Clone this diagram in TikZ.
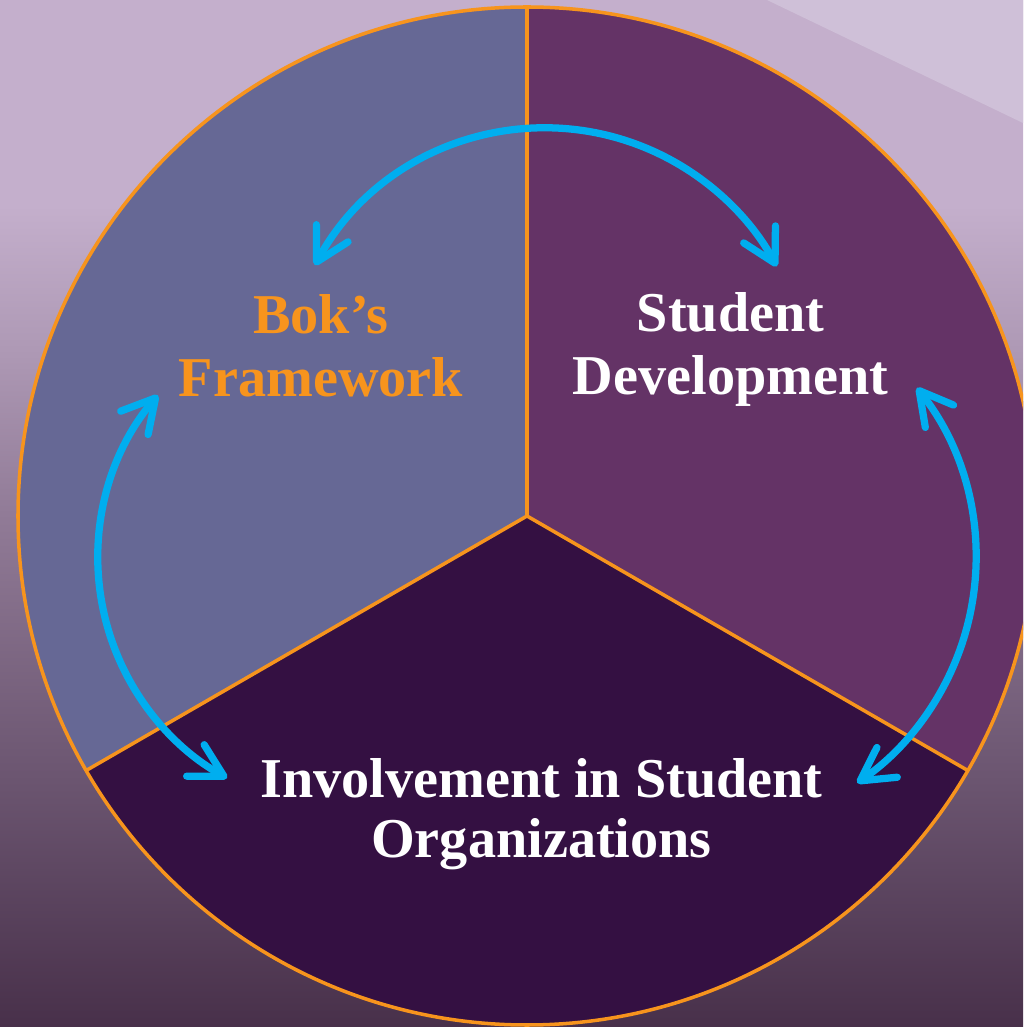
\documentclass[tikz,border=0pt]{standalone}
\usepackage{fontspec}
\setmainfont{Liberation Serif}
\usetikzlibrary{arrows.meta}

\definecolor{bgtop}{HTML}{C4AFCC}
\definecolor{bgupper}{HTML}{AE99B5}
\definecolor{bgmid}{HTML}{917B97}
\definecolor{bglower}{HTML}{6B5570}
\definecolor{bgbot}{HTML}{48304A}
\definecolor{bandc}{HTML}{CFC0D8}
\definecolor{secleft}{HTML}{666895}
\definecolor{secright}{HTML}{643366}
\definecolor{secbottom}{HTML}{341042}
\definecolor{rimorange}{HTML}{F7941D}
\definecolor{arrowblue}{HTML}{00AEEF}

% backdrop: flat light band at the top, darkening towards the bottom
\pgfdeclareverticalshading{backdrop}{100bp}{%
  color(0bp)=(bgbot); color(25bp)=(bgbot); color(37bp)=(bglower);
  color(50bp)=(bgmid); color(58bp)=(bgupper); color(65bp)=(bgtop);
  color(100bp)=(bgtop)}

\tikzset{
  rim/.style={draw=rimorange, line width=3pt, line join=round},
  barb/.tip={Straight Barb[length=0.98cm, width=1.08cm, round]},
  cyclearrow/.style={draw=arrowblue, line width=6.2pt, line cap=round, line join=round, barb-barb},
  lbl/.style={align=center, anchor=base, inner sep=0pt, font=\bfseries\fontsize{48}{54.4}\selectfont, text=white}
}

\begin{document}
\begin{tikzpicture}[x=0.03cm, y=0.03cm]
  \useasboundingbox (0,0) rectangle (1023,1027);
  \begin{scope}
    \clip (0,0) rectangle (1023,1027);
    % backdrop
    \shade[shading=backdrop] (0,0) rectangle (1023,1027);
    \fill[bandc] (767,1027) -- (1023,904) -- (1023,1027) -- cycle;

    % three sectors
    \coordinate (C) at (527,511);
    \fill[secleft]   (C) -- ++(90:509)  arc[start angle=90,  end angle=210, radius=509] -- cycle;
    \fill[secright]  (C) -- ++(90:509)  arc[start angle=90,  end angle=-30, radius=509] -- cycle;
    \fill[secbottom] (C) -- ++(210:509) arc[start angle=210, end angle=330, radius=509] -- cycle;

    % rim and dividers
    \draw[rim] (C) -- ++(90:509);
    \draw[rim] (C) -- ++(210:509);
    \draw[rim] (C) -- ++(-30:509);
    \draw[rim] (C) circle[radius=509];
  \end{scope}

  % cycle arrows
  \coordinate (topstart)   at (314.9,761.8);
  \coordinate (leftstart)  at (157.9,631.8);
  \coordinate (rightstart) at (916.9,639.2);
  \draw[cyclearrow] (topstart)   arc[start angle=151.5, end angle=28.2,  radius=262.4];
  \draw[cyclearrow] (leftstart)  arc[start angle=139.6, end angle=240.9, radius=251.6];
  \draw[cyclearrow] (rightstart) arc[start angle=38.4,  end angle=-55.6, radius=273.2];

  % labels (anchored on the baseline of the last line)
  \node[lbl, text=rimorange] (bok) at (321,630) {Bok’s\\Framework};
  \node[lbl] (dev) at (730.5,632) {Student\\Development};
  \node[lbl, font=\bfseries\fontsize{48}{52}\selectfont] (inv) at (541.5,169) {Involvement in Student\\Organizations};
\end{tikzpicture}
\end{document}
